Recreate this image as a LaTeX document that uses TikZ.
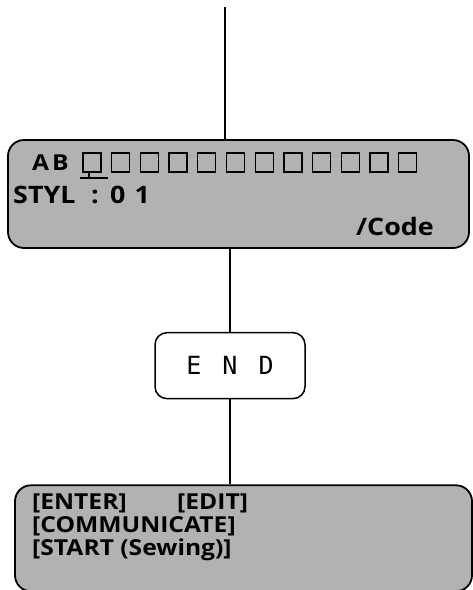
\documentclass[tikz,border=0pt]{standalone}
\usepackage{fontspec}
\setmainfont{Open Sans}[FakeStretch=1.12]
\setmonofont{DejaVu Sans Mono}
\usetikzlibrary{positioning}
\definecolor{lcdgray}{gray}{0.70}

\begin{document}
\begin{tikzpicture}[x=1pt,y=-1pt]
	\tikzstyle{lcd}=[draw,line width=1.8pt,fill=lcdgray,rounded corners=16pt,inner sep=0pt]
	\tikzstyle{txt}=[inner sep=0pt,anchor=base west,font=\bfseries\fontsize{24}{27}\selectfont]
	\tikzstyle{menutxt}=[txt,font=\bfseries\fontsize{22}{23}\selectfont]
	\useasboundingbox (0,0) rectangle (473,590);

	\node (disp) [lcd,minimum width=461pt,minimum height=108pt] at (238.5,194) {};
	\node (endbox) [draw,line width=1.5pt,rounded corners=12pt,minimum width=150pt,minimum height=66pt,below=83pt of disp,xshift=-8.5pt,font=\ttfamily\fontsize{25}{28}\selectfont] {E\hspace{21pt}N\hspace{21pt}D};
	\node (menu) [lcd,minimum width=457pt,minimum height=106pt,below=85pt of endbox,xshift=13.5pt] {};

	\coordinate (top) at (225,7);
	\draw[line width=1.5pt] (top) -- (top |- disp.north);
	\draw[line width=1.5pt] (disp.south -| endbox.north) -- (endbox.north);
	\draw[line width=1.5pt] (endbox.south) -- (endbox.south |- menu.north);

	% display
	\node (ab) [txt,font=\bfseries\fontsize{22}{24}\selectfont] at (32,170) {A\hspace{3pt}B};
	\foreach \i in {0,...,11}
		\draw[line width=1.3pt] ({83+\i*28.7},153) rectangle +(18,19);
	\draw[line width=1.5pt] (80,178) -- (108,178) (89,172) -- (89,178);
	\node (styl) [txt] at (13,203) {STYL};
	\node (colon) [txt] at (91,203) {:};
	\node (num) [txt] at (110,203) {0\hspace{9pt}1};
	\node (code) [txt,anchor=base east] at (434,235) {/Code};

	% menu
	\node (enter) [menutxt] at (32,509) {[ENTER]};
	\node (edit) [menutxt] at (177,509) {[EDIT]};
	\node (comm) [menutxt] at (32,532) {[COMMUNICATE]};
	\node (start) [menutxt] at (32,555) {[START (Sewing)]};
\end{tikzpicture}
\end{document}
